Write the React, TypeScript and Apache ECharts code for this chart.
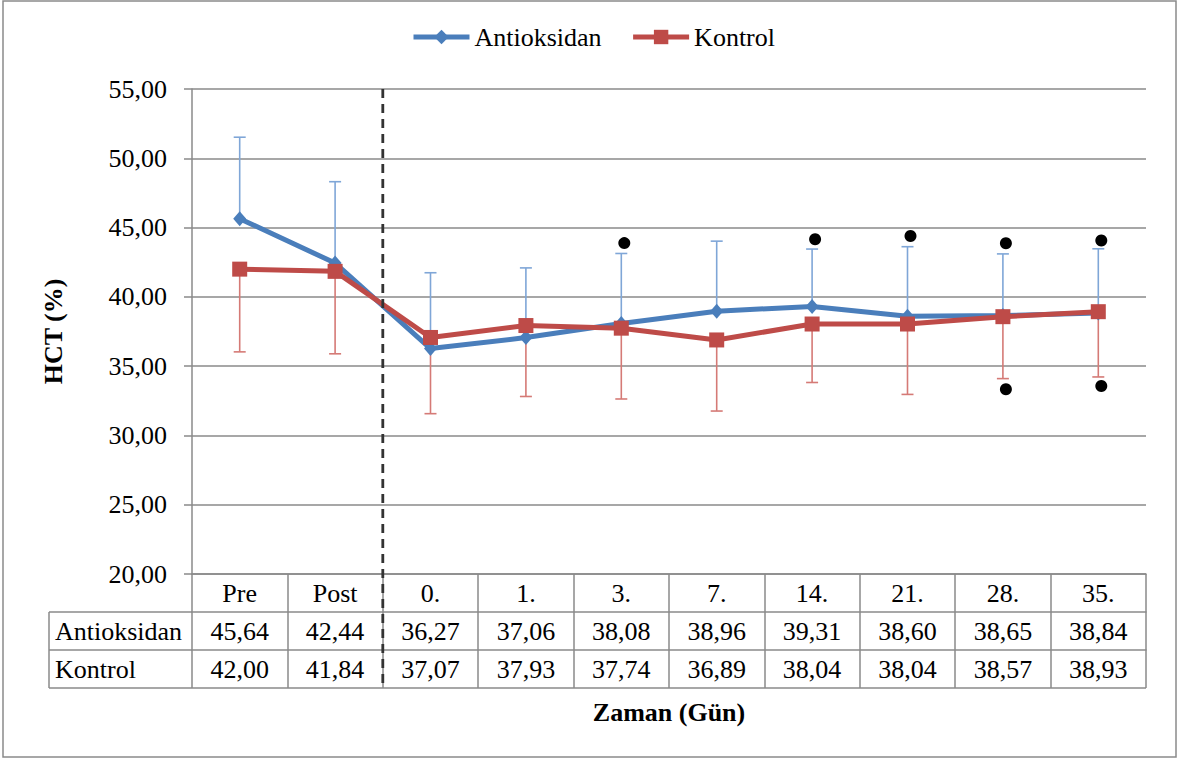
import React, { useEffect, useRef } from "react";
import * as echarts from "echarts";

const categories = ["Pre", "Post", "0.", "1.", "3.", "7.", "14.", "21.", "28.", "35."];
const antioksidan = [45.64, 42.44, 36.27, 37.06, 38.08, 38.96, 39.31, 38.6, 38.65, 38.84];
const kontrol = [42.0, 41.84, 37.07, 37.93, 37.74, 36.89, 38.04, 38.04, 38.57, 38.93];
const antioksidanUpper = [51.52, 48.31, 41.74, 42.09, 43.13, 44.02, 43.45, 43.62, 43.1, 43.47];
const kontrolLower = [36.03, 35.89, 31.57, 32.81, 32.63, 31.76, 33.82, 32.96, 34.1, 34.22];
const dotsUpper = [null, null, null, null, 43.88, null, 44.16, 44.39, 43.87, 44.07];
const dotsLower = [null, null, null, null, null, null, null, null, 33.33, 33.57];
const seriesNames = ["Antioksidan", "Kontrol"];
const yTitle = "HCT (%)";
const xTitle = "Zaman (Gün)";

const FONT = "Liberation Serif, Times New Roman, serif";
const BLUE = "#4A7EBB";
const RED = "#BE4B48";
const BLUE_ERR = "#7FA6D7";
const RED_ERR = "#D57A76";
const GRAY = "#8A8A8A";

const fmt = (v: number) => v.toFixed(2).replace(".", ",");

const W = 1180;
const H = 758;
const GRID_LEFT = 192;
const GRID_RIGHT = 34;
const GRID_TOP = 89;
const GRID_BOTTOM = 184;
const ROW_H = 38;

function errorSeries(lo: number[], hi: number[], color: string, capAtTop: boolean) {
  return {
    type: "custom",
    z: 1,
    silent: true,
    xAxisIndex: 0,
    yAxisIndex: 0,
    encode: { x: 0, y: [1, 2] },
    data: lo.map((l, i) => [i, l, hi[i]]),
    renderItem: (params: any, api: any) => {
      const x = api.value(0);
      const pLo = api.coord([x, api.value(1)]);
      const pHi = api.coord([x, api.value(2)]);
      const capY = capAtTop ? pHi[1] : pLo[1];
      const style = { stroke: color, lineWidth: 1.6 };
      return {
        type: "group",
        children: [
          { type: "line", shape: { x1: pLo[0], y1: pLo[1], x2: pHi[0], y2: pHi[1] }, style },
          { type: "line", shape: { x1: pLo[0] - 6, y1: capY, x2: pLo[0] + 6, y2: capY }, style },
        ],
      };
    },
  };
}

function tableAxis(offset: number, labels: (i: number) => string, extra: any = {}) {
  return {
    type: "category",
    data: categories,
    position: "bottom",
    offset,
    boundaryGap: true,
    axisLine: { show: true, lineStyle: { color: GRAY, width: 1.5 } },
    axisTick: { show: true, interval: 0, length: ROW_H, lineStyle: { color: GRAY, width: 1.5 } },
    axisLabel: {
      show: true,
      interval: 0,
      margin: 19,
      verticalAlign: "middle",
      fontFamily: FONT,
      fontSize: 26,
      color: "#000",
      formatter: (_v: string, i: number) => labels(i),
    },
    splitLine: { show: false },
    ...extra,
  };
}

export default function App() {
  const ref = useRef<HTMLDivElement>(null);

  useEffect(() => {
    if (!ref.current) return;
    const chart = echarts.init(ref.current, undefined, { renderer: "svg" });
    const option: any = {
      animation: false,
      backgroundColor: "#fff",
      textStyle: { fontFamily: FONT },
      legend: {
        data: seriesNames,
        left: 406,
        top: 19,
        itemWidth: 56,
        itemHeight: 18,
        itemGap: 29,
        lineStyle: { width: 5 },
        textStyle: { fontFamily: FONT, fontSize: 26, color: "#000" },
      },
      grid: { left: GRID_LEFT, right: GRID_RIGHT, top: GRID_TOP, bottom: GRID_BOTTOM, containLabel: false },
      xAxis: [
        tableAxis(0, (i) => categories[i]),
        tableAxis(ROW_H, (i) => fmt(antioksidan[i])),
        tableAxis(2 * ROW_H, (i) => fmt(kontrol[i]), {
          name: xTitle,
          nameLocation: "middle",
          nameGap: 62,
          nameTextStyle: { fontFamily: FONT, fontSize: 26, fontWeight: "bold", color: "#000", verticalAlign: "middle" },
        }),
      ],
      yAxis: {
        type: "value",
        min: 20,
        max: 55,
        interval: 5,
        name: yTitle,
        nameLocation: "middle",
        nameGap: 126,
        nameRotate: 90,
        nameTextStyle: { fontFamily: FONT, fontSize: 26, fontWeight: "bold", color: "#000" },
        axisLine: { show: true, lineStyle: { color: GRAY, width: 1.5 } },
        axisTick: { show: true, length: 8, lineStyle: { color: GRAY, width: 1.5 } },
        axisLabel: { margin: 25, fontFamily: FONT, fontSize: 26, color: "#000", formatter: (v: number) => fmt(v) },
        splitLine: { show: true, lineStyle: { color: GRAY, width: 1.5 } },
      },
      series: [
        errorSeries(antioksidan, antioksidanUpper, BLUE_ERR, true),
        errorSeries(kontrolLower, kontrol, RED_ERR, false),
        {
          name: seriesNames[0],
          type: "line",
          z: 3,
          data: antioksidan,
          symbol: "diamond",
          symbolSize: [13, 15],
          lineStyle: { color: BLUE, width: 5 },
          itemStyle: { color: BLUE },
        },
        {
          name: seriesNames[1],
          type: "line",
          z: 4,
          data: kontrol,
          symbol: "rect",
          symbolSize: 15,
          lineStyle: { color: RED, width: 5 },
          itemStyle: { color: RED },
        },
        {
          type: "scatter",
          z: 5,
          data: dotsUpper.map((v) => (v == null ? "-" : v)),
          symbol: "circle",
          symbolSize: 12,
          symbolOffset: [3, 0],
          itemStyle: { color: "#000", opacity: 1 },
        },
        {
          type: "scatter",
          z: 5,
          data: dotsLower.map((v) => (v == null ? "-" : v)),
          symbol: "circle",
          symbolSize: 12,
          symbolOffset: [3, 0],
          itemStyle: { color: "#000", opacity: 1 },
        },
      ],
    };
    chart.setOption(option);

    const xPost = chart.convertToPixel({ xAxisIndex: 0 }, 1) as number;
    const xZero = chart.convertToPixel({ xAxisIndex: 0 }, 2) as number;
    const xDash = (xPost + xZero) / 2;
    const tableTop = H - GRID_BOTTOM;
    const tableBottom = tableTop + 3 * ROW_H;
    const tableLeft = 49;
    const lineStyle = { stroke: GRAY, lineWidth: 1.5 };
    chart.setOption({
      graphic: [
        { type: "rect", shape: { x: 3, y: 1, width: 1173, height: 756 }, style: { fill: "none", stroke: GRAY, lineWidth: 1.5 }, z: 0, silent: true },
        { type: "line", shape: { x1: tableLeft, y1: tableTop + ROW_H, x2: GRID_LEFT, y2: tableTop + ROW_H }, style: lineStyle },
        { type: "line", shape: { x1: tableLeft, y1: tableTop + 2 * ROW_H, x2: GRID_LEFT, y2: tableTop + 2 * ROW_H }, style: lineStyle },
        { type: "line", shape: { x1: tableLeft, y1: tableBottom, x2: W - GRID_RIGHT, y2: tableBottom }, style: lineStyle },
        { type: "line", shape: { x1: tableLeft, y1: tableTop + ROW_H, x2: tableLeft, y2: tableBottom }, style: lineStyle },
        {
          type: "text",
          x: 55,
          y: tableTop + ROW_H * 1.5,
          style: { text: seriesNames[0], fontFamily: FONT, fontSize: 26, fill: "#000", verticalAlign: "middle", align: "left" },
        },
        {
          type: "text",
          x: 55,
          y: tableTop + ROW_H * 2.5,
          style: { text: seriesNames[1], fontFamily: FONT, fontSize: 26, fill: "#000", verticalAlign: "middle", align: "left" },
        },
        {
          type: "line",
          z: 100,
          shape: { x1: xDash, y1: GRID_TOP, x2: xDash, y2: tableBottom },
          style: { stroke: "#333333", lineWidth: 2.8, lineDash: [9, 6] },
        },
      ],
    });

    return () => chart.dispose();
  }, []);

  return <div ref={ref} style={{ position: "fixed", left: 0, top: 0, width: W, height: H }} />;
}
